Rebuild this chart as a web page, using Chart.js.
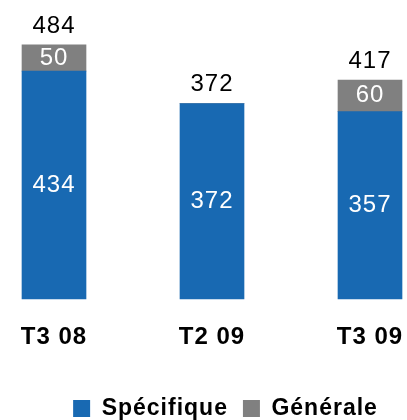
<!DOCTYPE html>
<html>
<head>
<meta charset="utf-8">
<script src="https://cdn.jsdelivr.net/npm/chart.js@4"></script>
<style>
  html, body { margin: 0; padding: 0; background: #fff; }
  #wrap { width: 407px; height: 420px; }
</style>
</head>
<body>
<div id="wrap"><canvas id="c"></canvas></div>
<script>
// data
const categories = ['T3 08', 'T2 09', 'T3 09'];
const specifique = [434, 372, 357];
const generale = [50, 0, 60];
const totals = [484, 372, 417];

const blue = '#1869b2';
const grey = '#808080';
const spacing = '1px';

// the original text is a little wider than Arial, so spread letters a bit
const wideText = {
  id: 'wideText',
  beforeLayout(chart) { chart.ctx.letterSpacing = spacing; },
  beforeDraw(chart) { chart.ctx.letterSpacing = spacing; },
  afterLayout(chart) {
    // legend sits a bit lower and more to the right in the original
    const lg = chart.legend;
    lg.top += 10; lg.bottom += 10;
    lg.left += 22; lg.right += 22;
  }
};

// value labels inside the bars + totals above
const barLabels = {
  id: 'barLabels',
  afterDatasetsDraw(chart) {
    const ctx = chart.ctx;
    ctx.save();
    ctx.textAlign = 'center';
    ctx.textBaseline = 'middle';
    ctx.font = '24px "Liberation Sans", Arial, sans-serif';
    ctx.fillStyle = '#fff';
    chart.data.datasets.forEach((ds, i) => {
      chart.getDatasetMeta(i).data.forEach((bar, j) => {
        if (!ds.data[j]) return;
        ctx.fillText(ds.data[j], bar.x, (bar.y + bar.base) / 2);
      });
    });
    ctx.fillStyle = '#000';
    const top = chart.getDatasetMeta(chart.data.datasets.length - 1).data;
    top.forEach((bar, j) => {
      ctx.fillText(totals[j], bar.x, bar.y - 19);
    });
    ctx.restore();
  }
};

new Chart(document.getElementById('c'), {
  type: 'bar',
  data: {
    labels: categories,
    datasets: [
      { label: 'Spécifique', data: specifique, backgroundColor: blue, barThickness: 64, clip: false },
      { label: 'Générale', data: generale, backgroundColor: grey, barThickness: 64, clip: false }
    ]
  },
  options: {
    responsive: true,
    maintainAspectRatio: false,
    animation: false,
    layout: { padding: { left: 0, right: 0, top: 5, bottom: 0 } },
    scales: {
      x: {
        stacked: true,
        offset: false,
        border: { display: false },
        grid: { display: false, drawTicks: false },
        ticks: {
          padding: 24,
          color: '#000',
          font: { family: '"Liberation Sans", Arial, sans-serif', size: 24, weight: 'bold' }
        },
        afterFit: s => {
          s.height = 73;
          // first / last category centres at x=54 and x=370
          s.paddingLeft = 54;
          s.paddingRight = 37;
        }
      },
      y: { stacked: true, display: false, min: 0, max: 560 }
    },
    plugins: {
      legend: {
        position: 'bottom',
        labels: {
          boxWidth: 17,
          boxHeight: 17,
          padding: 15,
          color: '#000',
          font: { family: '"Liberation Sans", Arial, sans-serif', size: 23, weight: 'bold' }
        }
      },
      tooltip: { enabled: false }
    }
  },
  plugins: [wideText, barLabels]
});
</script>
</body>
</html>
